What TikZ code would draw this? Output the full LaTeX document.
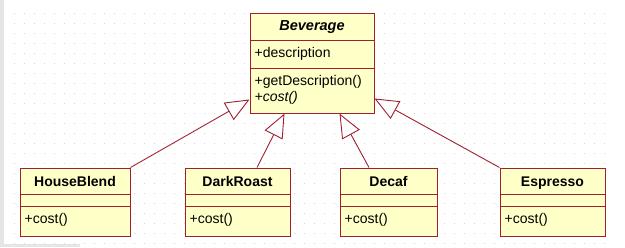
\documentclass[tikz,border=0pt]{standalone}
\usepackage{fontspec}
\setmainfont{Liberation Sans}
\usetikzlibrary{arrows.meta,positioning,calc}
\definecolor{umlred}{RGB}{160,32,48}
\definecolor{umlfill}{RGB}{255,255,200}
\definecolor{dotgray}{RGB}{212,212,212}
\tikzset{
  cls/.style={rectangle, draw=umlred, fill=umlfill, line width=1pt,
              minimum height=68pt, inner sep=0pt},
  sep/.style={draw=umlred, line width=1pt},
  ttl/.style={font=\fontsize{14}{16}\selectfont\bfseries, inner sep=0pt, anchor=base},
  op/.style={font=\fontsize{14}{16}\selectfont, anchor=base west, inner sep=0pt},
  inh/.style={draw=umlred, line width=0.9pt,
              -{Triangle[open, fill=white, length=24pt, width=20pt]}}
}

\begin{document}
\begin{tikzpicture}[x=1pt, y=-1pt]
  \useasboundingbox (0,0) rectangle (625,247);
  \fill[white] (0,0) rectangle (625,247);
  \fill[gray!20] (0,0) rectangle (4,247);
  \fill[gray!20] (0,244) rectangle (80,247);
  \foreach \i in {0,...,59}
    \foreach \j in {0,...,23}
      \fill[dotgray] (14+10*\i,13+10*\j) rectangle ++(1,1);

  % abstract base class
  \node[cls, minimum width=124pt, minimum height=100pt] (bev) at (312,63) {};
  \draw[sep] ([yshift=-28pt]bev.north west) -- ([yshift=-28pt]bev.north east);
  \draw[sep] ([yshift=-56pt]bev.north west) -- ([yshift=-56pt]bev.north east);
  \node[ttl, font=\fontsize{14.5}{16}\selectfont\bfseries\itshape] (bevname)
    at ([yshift=-18pt]bev.north) {Beverage};
  \node[op] (desc) at ([xshift=5pt, yshift=-45pt]bev.north west) {+description};
  \node[op] (getdesc) at ([xshift=5pt, yshift=-73pt]bev.north west) {+getDescription()};
  \node[op, font=\fontsize{14}{16}\selectfont\itshape] (bevcost)
    at ([xshift=5pt, yshift=-89pt]bev.north west) {+cost()};

  % concrete beverages
  \foreach \n/\t/\x/\w in {hb/HouseBlend/75/110, dr/DarkRoast/237.5/105,
                           dc/Decaf/388.5/97, es/Espresso/552.5/105} {
    \node[cls, minimum width=\w pt] (\n) at (\x,202) {};
    \draw[sep] ([yshift=-27pt]\n.north west) -- ([yshift=-27pt]\n.north east);
    \draw[sep] ([yshift=-39pt]\n.north west) -- ([yshift=-39pt]\n.north east);
    \node[ttl] (\n name) at ([yshift=-19pt]\n.north) {\t};
    \node[op] (\n cost) at ([xshift=5pt, yshift=-56pt]\n.north west) {+cost()};
  }

  \draw[inh] (hb.north east) -- ([yshift=14pt]bev.south west);
  \draw[inh] ([xshift=19.5pt]dr.north) -- ([xshift=35pt]bev.south west);
  \draw[inh] ([xshift=-19.5pt]dc.north) -- ([xshift=-35pt]bev.south east);
  \draw[inh] (es.north west) -- ([yshift=15pt]bev.south east);
\end{tikzpicture}
\end{document}
